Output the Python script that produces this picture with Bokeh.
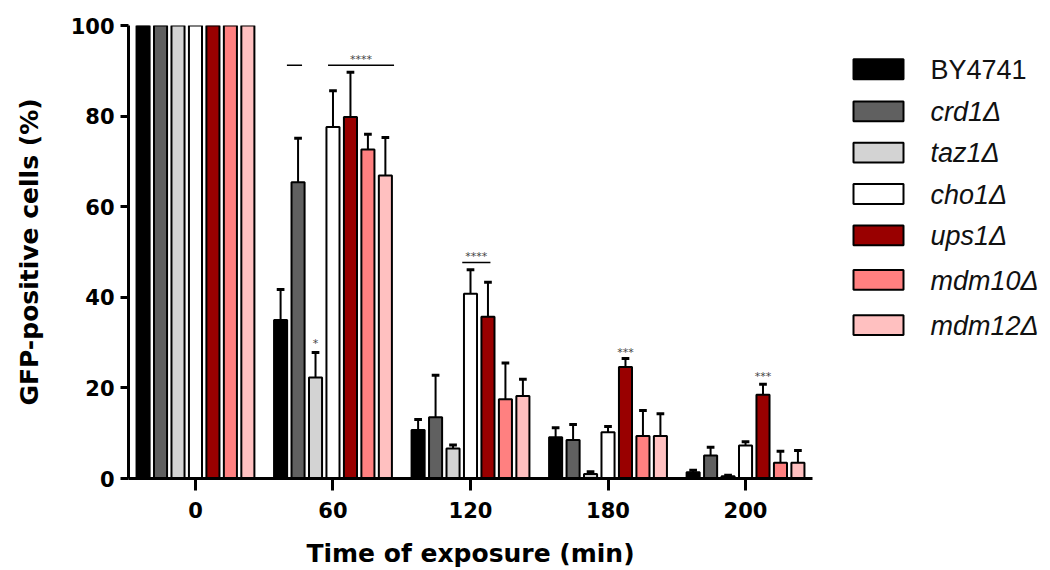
from bokeh.plotting import figure
from bokeh.layouts import row
from bokeh.models import Range1d, FixedTicker, ColumnDataSource
from bokeh.core.properties import value
from bokeh.embed import file_html
from bokeh.resources import INLINE

# ---------------- data ----------------
time_labels = ["0", "60", "120", "180", "200"]
strains = ["BY4741", "crd1Δ", "taz1Δ", "cho1Δ", "ups1Δ", "mdm10Δ", "mdm12Δ"]
colors = ["#000000", "#606060", "#d3d3d3", "#ffffff", "#990000", "#ff8080", "#ffc0c0"]
italic = [False, True, True, True, True, True, True]

mean_by4741 = [100, 35.0, 10.7, 9.1, 1.4]
mean_crd1 = [100, 65.4, 13.5, 8.5, 5.1]
mean_taz1 = [100, 22.3, 6.6, 1.0, 0.5]
mean_cho1 = [100, 77.6, 40.8, 10.2, 7.3]
mean_ups1 = [100, 79.8, 35.7, 24.6, 18.5]
mean_mdm10 = [100, 72.6, 17.5, 9.4, 3.5]
mean_mdm12 = [100, 66.9, 18.2, 9.4, 3.5]

sd_by4741 = [0, 6.7, 2.3, 2.1, 0.4]
sd_crd1 = [0, 9.7, 9.3, 3.4, 1.8]
sd_taz1 = [0, 5.5, 0.8, 0.5, 0.2]
sd_cho1 = [0, 8.0, 5.3, 1.3, 0.8]
sd_ups1 = [0, 9.9, 7.6, 1.9, 2.3]
sd_mdm10 = [0, 3.4, 8.0, 5.6, 2.5]
sd_mdm12 = [0, 8.4, 3.7, 4.9, 2.7]

means = [mean_by4741, mean_crd1, mean_taz1, mean_cho1, mean_ups1, mean_mdm10, mean_mdm12]
sds = [sd_by4741, sd_crd1, sd_taz1, sd_cho1, sd_ups1, sd_mdm10, sd_mdm12]

# significance brackets: (group index, x start offset, x end offset, y, stars)
sig_lines = [(1, -0.335, -0.225, 91.2, ""),
             (1, -0.036, 0.444, 91.2, "****"),
             (2, -0.060, 0.145, 47.7, "****")]
# stars above single bars: (group index, strain index, y)
sig_stars = [(1, 2, 29.8, "*"), (3, 4, 27.8, "***"), (4, 4, 22.6, "***")]

# ---------------- layout constants ----------------
stride = 0.127
bar_w = 0.095
cap_hw = 0.028
FONT = "DejaVu Sans"

p = figure(width=830, height=570, output_backend="svg", toolbar_location=None,
           x_range=Range1d(-0.487, 4.487), y_range=Range1d(0, 100),
           min_border_left=128, min_border_right=18, min_border_top=25,
           min_border_bottom=92)
p.outline_line_color = None
p.xgrid.visible = False
p.ygrid.visible = False
p.background_fill_color = "white"
p.border_fill_color = "white"

n = len(strains)
for i in range(n):
    xs = [g + (i - (n - 1) / 2) * stride for g in range(len(time_labels))]
    src = ColumnDataSource(dict(x=xs, top=means[i]))
    p.vbar(x="x", top="top", bottom=0, width=bar_w, source=src,
           fill_color=colors[i], line_color="black", line_width=2)
    ex, e0, e1, cx0, cx1 = [], [], [], [], []
    for g in range(len(time_labels)):
        if sds[i][g] > 0:
            ex.append(xs[g])
            e0.append(means[i][g])
            e1.append(means[i][g] + sds[i][g])
            cx0.append(xs[g] - cap_hw)
            cx1.append(xs[g] + cap_hw)
    p.segment(x0=ex, y0=e0, x1=ex, y1=e1, line_color="black", line_width=2)
    p.segment(x0=cx0, y0=e1, x1=cx1, y1=e1, line_color="black", line_width=3)

for g, a, b, y, s in sig_lines:
    p.segment(x0=[g + a], y0=[y], x1=[g + b], y1=[y], line_color="black", line_width=1.5)
    if s:
        p.text(x=[g + (a + b) / 2], y=[y + 1.4], text=[s], text_align="center",
               text_baseline="middle", text_font_size="11px", text_color="#444444",
               text_font=value(FONT))
for g, si, y, s in sig_stars:
    p.text(x=[g + (si - (n - 1) / 2) * stride], y=[y], text=[s], text_align="center",
           text_baseline="middle", text_font_size="11px", text_color="#444444",
           text_font=value(FONT))

# axes
p.xaxis.ticker = FixedTicker(ticks=list(range(len(time_labels))))
p.xaxis.major_label_overrides = {i: t for i, t in enumerate(time_labels)}
p.yaxis.ticker = FixedTicker(ticks=[0, 20, 40, 60, 80, 100])
for ax in (p.xaxis, p.yaxis):
    ax.axis_line_width = 3
    ax.axis_line_color = "black"
    ax.major_tick_line_width = 3
    ax.major_tick_line_color = "black"
    ax.minor_tick_line_color = None
    ax.major_tick_in = 0
    ax.major_label_text_font = FONT
    ax.major_label_text_font_style = "bold"
    ax.major_label_text_font_size = "21px"
    ax.major_label_text_color = "black"
    ax.axis_label_text_font = FONT
    ax.axis_label_text_font_style = "bold"
    ax.axis_label_text_font_size = "25px"
    ax.axis_label_text_color = "black"
p.xaxis.major_tick_out = 12
p.yaxis.major_tick_out = 8
p.xaxis.major_label_standoff = 11
p.yaxis.major_label_standoff = 6
p.xaxis.axis_label = "Time of exposure (min)"
p.yaxis.axis_label = "GFP-positive cells (%)"
p.xaxis.axis_label_text_line_height = 0.8
p.xaxis.major_label_text_line_height = 0.9
p.xaxis.axis_label_standoff = 18
p.yaxis.axis_label_standoff = 24

# ---------------- legend panel ----------------
leg = figure(width=220, height=570, output_backend="svg", toolbar_location=None,
             x_range=Range1d(0, 220), y_range=Range1d(570, 0),
             x_axis_type=None, y_axis_type=None, min_border=0)
leg.outline_line_color = None
leg.xgrid.visible = False
leg.ygrid.visible = False
leg_y = [55, 108, 160, 212, 264, 320, 377]
leg.rect(x=[48] * n, y=leg_y, width=50, height=25, fill_color=colors,
         line_color="black", line_width=2)
for i in range(n):
    leg.text(x=[100], y=[leg_y[i] + 1], text=[strains[i]], text_baseline="middle",
             text_font_size="27px", text_font=value("Liberation Sans"),
             text_font_style="italic" if italic[i] else "normal", text_color="#111111")

layout = row(p, leg)
open("out.html", "w").write(file_html(layout, INLINE))
